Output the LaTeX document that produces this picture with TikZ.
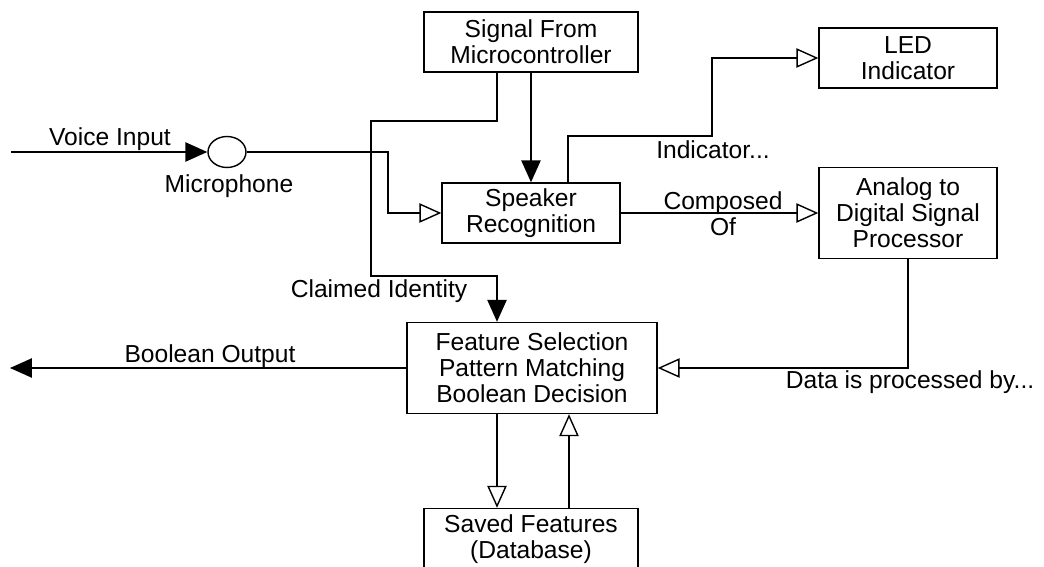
\documentclass[tikz,border=0pt]{standalone}
\usepackage{fontspec}
\setmainfont{Liberation Sans}
\usetikzlibrary{arrows.meta,shapes.geometric,calc}
\begin{document}
\begin{tikzpicture}[x=0.02cm, y=-0.02cm, line width=0.8pt,
    every node/.style={font=\fontsize{14}{14.7}\selectfont, inner sep=0pt},
    block/.style={draw, align=center, minimum width=3.56cm, minimum height=1.2cm},
    solidtip/.style={-{Triangle[length=12.5pt,width=11pt]}},
    opentip/.style={-{Triangle[open,length=12.5pt,width=11pt]}}]
    \useasboundingbox (0,0) rectangle (1044,567);

    % Blocks
    \node[block, minimum width=4.28cm] (sig) at (531,42) {Signal From\\Microcontroller};
    \node[block] (led) at (908,58) {LED\\Indicator};
    \node[block] (spk) at (531,213) {Speaker\\Recognition};
    \node[block, minimum height=1.82cm] (adc) at (908,213) {Analog to\\Digital Signal\\Processor};
    \node[block, minimum width=5cm, minimum height=1.82cm] (feat) at (532,368) {Feature Selection\\Pattern Matching\\Boolean Decision};
    \node[block, minimum width=4.28cm, minimum height=1.22cm] (db) at (531,539) {Saved Features\\(Database)};

    % Microphone
    \node[ellipse, draw, minimum width=0.76cm, minimum height=0.62cm] (mic) at (227,152) {};
    \node (miclbl) at (229,186) {Microphone};

    % Free ends
    \coordinate (vin) at (11,152);
    \coordinate (bout) at (10,368);

    % Connectors
    \draw[solidtip] (vin) -- (mic.west);
    \draw[opentip] (mic.east) -- (388,152) |- (spk.west);
    \draw[solidtip] (sig) -- (spk);
    \draw[solidtip] ($(sig.south)+(-34,0)$) |- (371,121) |- (497,276) -- ($(feat.north)+(-35,0)$);
    \draw[opentip] ($(spk.north)+(37,0)$) |- (712,136) |- (led.west);
    \draw[opentip] (spk) -- (adc);
    \draw[opentip] (adc.south) |- (feat.east);
    \draw[solidtip] (feat.west) -- (bout);
    \draw[opentip] ($(feat.south)+(-35,0)$) -- ($(db.north)+(-34,0)$);
    \draw[opentip] ($(db.north)+(38,0)$) -- ($(feat.south)+(37,0)$);

    % Labels
    \node (vinlbl) at (110,139) {Voice Input};
    \node (cidlbl) at (379,291) {Claimed Identity};
    \node (indlbl) at (713,150) {Indicator...};
    \node[align=center] (cmplbl) at (723,214) {Composed\\Of};
    \node (datlbl) at (910,382) {Data is processed by...};
    \node (boutlbl) at (210,356) {Boolean Output};

\end{tikzpicture}
\end{document}
